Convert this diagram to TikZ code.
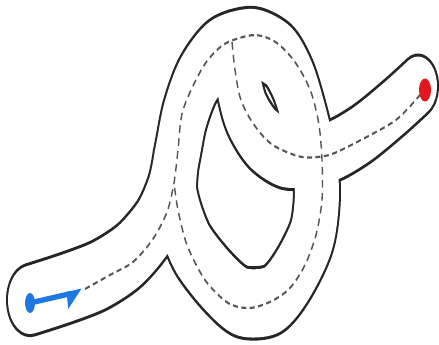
\documentclass[tikz,border=0pt]{standalone}
\usetikzlibrary{arrows.meta}
\definecolor{trailblue}{RGB}{30,120,225}
\definecolor{trailred}{RGB}{228,22,30}
\definecolor{dashgray}{RGB}{85,85,85}

\begin{document}
\begin{tikzpicture}[
  x=.05cm,y=-.05cm,
  road/.style={line cap=round,line join=round},
  centreline/.style={dashgray,line width=.07cm,dash pattern=on .25cm off .17cm},
  startarrow/.style={trailblue,line width=.175cm,-{Triangle[harpoon,swap,length=.65cm,width=.9cm]}}
]
\useasboundingbox (0,0) rectangle (439,344);
% the drawing is squeezed sideways, so the road is drawn unstretched and the canvas pulled down
\begin{scope}[y=-.0322581cm,transform canvas={yscale=1.55}]
  \coordinate (start) at (30,303);
  \coordinate (arrowend) at (82,291);
  \coordinate (goal) at (425,90);
  % outline first, then the white road on top of it
  \foreach \roadcol/\roadwd/\armwd in {black!85/2.4cm/2.1cm,white/2.2cm/1.9cm} {
    \draw[road,draw=\roadcol,line width=\roadwd] plot[smooth] coordinates {
      (30,300) (67,288) (100,275) (130,255) (155,225) (170,190) (178,150)
      (185,115) (198,80) (220,52) (252,43) (278,55) (292,78) (301,105)
      (311,145) (317,190) (312,235) (293,275) (272,300) (242,302)
      (218,282) (193,250) (180,218) (174,190) (176,160)};
    \draw[road,draw=\roadcol,line width=\roadwd] plot[smooth] coordinates {
      (234,46) (238,80) (246,112) (262,138) (285,153) (312,153)};
    \draw[road,draw=\roadcol,line width=\armwd] plot[smooth] coordinates {
      (300,154) (330,152) (362,134) (395,107) (418,86)};
  }
  \draw[centreline] plot[smooth] coordinates {
    (85,289) (110,275) (133,262) (153,239) (167,212) (174,183) (178,150)
    (183,110) (203,67) (223,45) (247,36) (262,36) (277,43) (292,58)
    (303,75) (312,95) (319,125) (322,160) (322,200) (316,235) (305,265)
    (290,288) (272,301) (250,308) (228,303) (205,280) (187,245) (178,210)
    (174,183)};
  \draw[centreline] plot[smooth] coordinates {
    (232,42) (235,70) (240,97) (249,117) (262,135) (276,147) (302,157)
    (329,155) (359,141) (396,120) (420,95)};
  \draw[startarrow] (start) -- (arrowend);
  \fill[trailblue] (start) ellipse [x radius=5,y radius=10];
  \fill[trailred] (goal) ellipse [x radius=6,y radius=11.5];
\end{scope}
\end{tikzpicture}
\end{document}
